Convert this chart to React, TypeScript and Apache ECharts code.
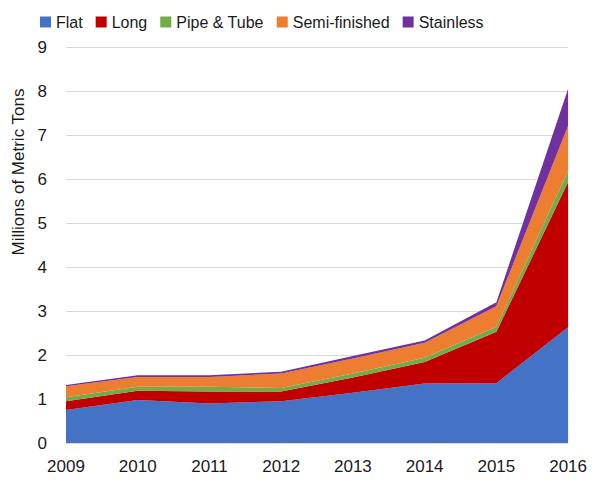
import React, { useEffect, useRef } from "react";
import * as echarts from "echarts";

const years = ["2009", "2010", "2011", "2012", "2013", "2014", "2015", "2016"];
const flat = [0.75, 0.98, 0.9, 0.95, 1.14, 1.35, 1.36, 2.63];
const long = [0.2, 0.21, 0.27, 0.22, 0.35, 0.49, 1.17, 3.3];
const pipe = [0.09, 0.09, 0.11, 0.08, 0.09, 0.1, 0.11, 0.26];
const semi = [0.25, 0.22, 0.22, 0.33, 0.34, 0.34, 0.47, 1.02];
const stainless = [0.03, 0.04, 0.04, 0.04, 0.06, 0.05, 0.09, 0.84];

const seriesNames = ["Flat", "Long", "Pipe & Tube", "Semi-finished", "Stainless"];
const colors = ["#4472C4", "#C00000", "#70AD47", "#ED7D31", "#7030A0"];
const yAxisTitle = "Millions of Metric Tons";

export default function App() {
  const ref = useRef<HTMLDivElement>(null);
  useEffect(() => {
    if (!ref.current) return;
    const chart = echarts.init(ref.current, null, { renderer: "svg" });
    const font = "Liberation Sans";
    const txt = "#1a1a1a";
    const dataSets = [flat, long, pipe, semi, stainless];
    chart.setOption({
      animation: false,
      color: colors,
      textStyle: { fontFamily: font },
      legend: {
        top: 1,
        left: 27,
        icon: "rect",
        itemWidth: 11,
        itemHeight: 11,
        itemGap: 13,
        textStyle: { fontSize: 16, color: txt, fontFamily: font },
        data: seriesNames,
      },
      graphic: [
        {
          type: "text",
          x: 10,
          y: 164,
          rotation: Math.PI / 2,
          style: {
            text: yAxisTitle,
            fontSize: 17,
            fill: txt,
            fontFamily: font,
            align: "center",
            verticalAlign: "middle",
          },
        },
      ],
      grid: { left: 58, right: 14, top: 39, bottom: 25, containLabel: false },
      xAxis: {
        type: "category",
        data: years,
        boundaryGap: false,
        axisLine: { show: true, lineStyle: { color: "#d9d9d9" } },
        axisTick: { show: false },
        axisLabel: { fontSize: 17, color: txt, margin: 15, fontFamily: font },
      },
      yAxis: {
        type: "value",
        min: 0,
        max: 9,
        interval: 1,
        axisLine: { show: false },
        axisTick: { show: false },
        axisLabel: { fontSize: 17, color: txt, margin: 19, fontFamily: font },
        splitLine: { lineStyle: { color: "#d9d9d9", width: 1 } },
      },
      series: seriesNames.map((name, i) => ({
        name,
        type: "line",
        stack: "total",
        data: dataSets[i],
        symbol: "none",
        lineStyle: { width: 0 },
        areaStyle: { color: colors[i], opacity: 1 },
        itemStyle: { color: colors[i] },
      })),
    });
    return () => chart.dispose();
  }, []);
  return <div ref={ref} style={{ width: 582, height: 467 }} />;
}
